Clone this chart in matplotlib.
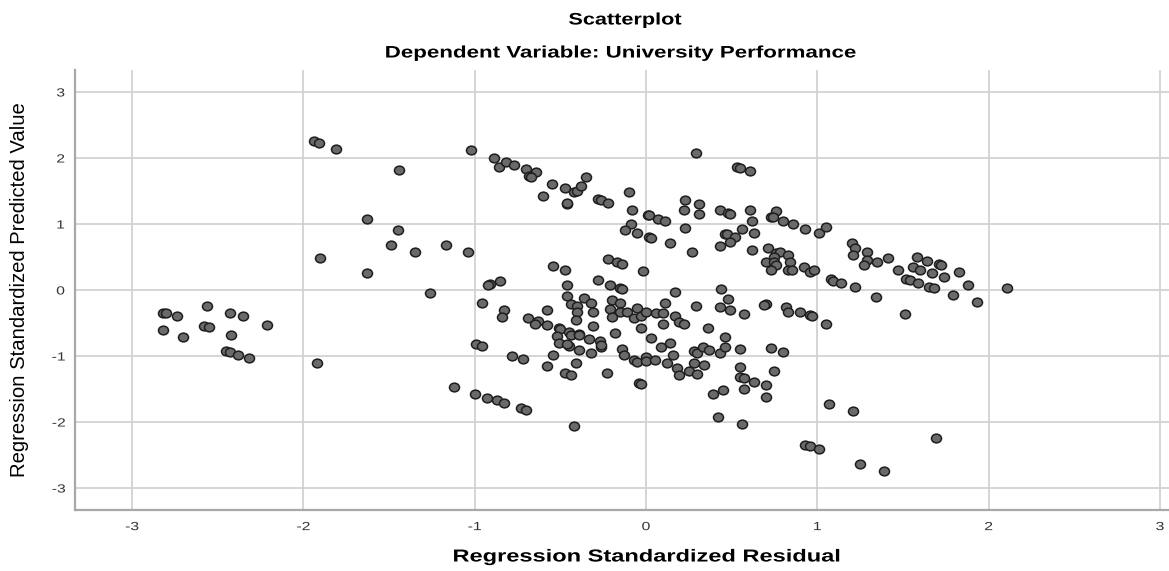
import matplotlib
matplotlib.use("Agg")
import matplotlib.pyplot as plt
from matplotlib.patheffects import AbstractPathEffect
from matplotlib.transforms import Affine2D
from matplotlib.path import Path

# Regression standardized residual (x) and predicted value (y)
resid = [
    -2.82, -2.80, -2.74, -2.82, -2.70, -2.56, -2.58, -2.55, -2.43, -2.35, -2.42, -2.45, -2.43, -2.38, -2.32, -2.21, -1.92,
    -1.94, -1.91, -1.81, -1.44, -1.63, -1.45, -1.49, -1.90, -1.63, -1.35, -1.17, -1.04, -1.26, -1.02,
    -0.89, -0.86, -0.82, -0.77, -0.70, -0.64, -0.68, -0.67, -0.55, -0.60, -0.47, -0.42, -0.40, -0.38, -0.35, -0.46, -0.46,
    -0.28, -0.26, -0.22, -0.10, -0.08, 0.01, 0.02, 0.07, 0.11, -0.09, -0.12, -0.05, 0.02, 0.03, 0.14, 0.23, 0.29, 0.23,
    0.31, 0.22, 0.31, 0.27, 0.43, 0.48, 0.49, 0.61, 0.62, 0.56, 0.63, 0.46, 0.47, 0.52, 0.49, 0.43, 0.62, 0.53, 0.55, 0.61,
    0.76, 0.73, 0.74, 0.71, 0.76, 0.78, 0.83, 0.75, 0.70, 0.75, 0.84, 0.76, 0.73, 0.83, 0.85, 0.92, 0.96, 0.98, 1.08, 1.09,
    1.14, 1.22, 0.80, 0.86, 0.93, 1.01, 1.05,
    1.20, 1.22, 1.21, 1.29, 1.29, 1.27, 1.35, 1.41, 1.47, 1.58, 1.64, 1.56, 1.60, 1.71, 1.72, 1.67, 1.74, 1.83, 1.52, 1.54,
    1.59, 1.65, 1.68, 1.88, 1.79, 1.93, 2.11, 1.51, 1.34,
    -0.22, -0.17, -0.14, -0.02, -0.54, -0.47, -0.91, -0.92, -0.85, -0.28, -0.46, -0.21, -0.15, -0.14, 0.17, 0.44, 0.48,
    0.70, 0.69, -0.96, 0.11, 0.29,
    -0.83, -0.84, -0.58, -0.46, -0.44, -0.40, -0.36, -0.32, -0.40, -0.41, -0.31, -0.20, -0.15, -0.21, -0.15, -0.20, -0.11,
    -0.05, -0.07, -0.03, -0.03, -0.69, -0.63, -0.65, -0.58, -0.31, -0.18, -0.51, -0.50, -0.45, -0.44, -0.39, -0.39, -0.52,
    -0.33, -0.51, -0.45, -0.46, -0.39, -0.27, -0.26, -0.26, -0.32, -0.14, -0.13, -0.99, -0.96, -0.78, -0.72, -0.54, -0.41,
    -0.58, -0.07, -0.05,
    0.00, 0.06, 0.10, 0.10, 0.17, 0.19, 0.22, 0.43, 0.49, 0.57, 0.03, 0.09, 0.14, 0.16, 0.00, 0.00, 0.05, 0.12, 0.18, 0.19,
    0.25, 0.30, 0.28, 0.34, 0.28, 0.30, 0.33, 0.37, 0.43, 0.46, 0.46, 0.36, 0.55, 0.55, 0.55, 0.57, 0.63, 0.70, 0.39, 0.45,
    0.57, 0.70, 0.42, 0.56, 0.73, 0.80, 0.75,
    0.82, 0.83, 0.90, 0.96, 0.97, 1.05,
    -0.47, -0.44, -0.23, -1.12, -1.00, -0.93, -0.87, -0.83, -0.73, -0.70, -0.42, -0.04, -0.03,
    1.07, 1.21, 0.93, 0.96, 1.01, 1.69, 1.25, 1.39,
]
predicted = [
    -0.35, -0.35, -0.40, -0.61, -0.71, -0.24, -0.54, -0.56, -0.35, -0.40, -0.68, -0.92, -0.94, -0.98, -1.03, -0.53, -1.10,
    2.25, 2.23, 2.14, 1.82, 1.07, 0.91, 0.68, 0.49, 0.26, 0.57, 0.68, 0.57, -0.05, 2.12,
    2.00, 1.87, 1.94, 1.90, 1.84, 1.79, 1.72, 1.71, 1.60, 1.43, 1.54, 1.49, 1.50, 1.58, 1.71, 1.31, 1.32,
    1.38, 1.36, 1.32, 1.49, 1.21, 1.14, 1.13, 1.07, 1.05, 1.00, 0.91, 0.86, 0.80, 0.79, 0.71, 0.94, 2.08, 1.36,
    1.31, 1.21, 1.15, 0.58, 1.21, 1.16, 1.15, 1.21, 1.04, 0.93, 0.87, 0.85, 0.85, 0.81, 0.73, 0.66, 0.61, 1.87, 1.85, 1.80,
    1.19, 1.11, 1.11, 0.63, 0.56, 0.58, 0.53, 0.50, 0.43, 0.42, 0.43, 0.38, 0.30, 0.31, 0.31, 0.35, 0.28, 0.30, 0.16, 0.14,
    0.11, 0.04, 1.05, 1.00, 0.93, 0.87, 0.95,
    0.71, 0.63, 0.53, 0.58, 0.46, 0.38, 0.43, 0.48, 0.31, 0.50, 0.44, 0.35, 0.30, 0.39, 0.38, 0.26, 0.20, 0.28, 0.17, 0.15,
    0.11, 0.05, 0.03, 0.08, -0.07, -0.18, 0.03, -0.36, -0.11,
    0.47, 0.43, 0.39, 0.29, 0.36, 0.30, 0.09, 0.08, 0.14, 0.15, 0.08, 0.08, 0.03, 0.02, -0.03, 0.01, -0.13,
    -0.21, -0.22, -0.19, -0.19, -0.24,
    -0.30, -0.41, -0.30, -0.09, -0.21, -0.24, -0.12, -0.20, -0.34, -0.46, -0.33, -0.15, -0.19, -0.29, -0.34, -0.41, -0.33,
    -0.28, -0.42, -0.40, -0.57, -0.43, -0.47, -0.52, -0.53, -0.54, -0.65, -0.58, -0.59, -0.63, -0.68, -0.67, -0.68, -0.69,
    -0.74, -0.80, -0.85, -0.82, -0.91, -0.78, -0.86, -0.84, -0.96, -0.90, -0.98, -0.82, -0.85, -1.00, -1.05, -0.99, -1.10,
    -1.15, -1.06, -1.09,
    -0.33, -0.35, -0.35, -0.51, -0.40, -0.48, -0.51, -0.25, -0.30, -0.36, -0.72, -0.87, -0.81, -0.99, -1.01, -1.08, -1.06,
    -1.11, -1.18, -1.29,
    -1.23, -1.27, -1.10, -1.14, -0.93, -0.95, -0.86, -0.91, -0.95, -0.86, -0.71, -0.57, -0.89, -1.16, -1.32, -1.34, -1.39,
    -1.44, -1.57, -1.52,
    -1.50, -1.62, -1.92, -2.03, -0.88, -0.94, -1.22,
    -0.25, -0.33, -0.33, -0.38, -0.39, -0.51,
    -1.26, -1.29, -1.25, -1.47, -1.57, -1.63, -1.67, -1.71, -1.79, -1.82, -2.06, -1.41, -1.42,
    -1.72, -1.83, -2.35, -2.37, -2.41, -2.24, -2.63, -2.74,
]

x_ticks = [-3, -2, -1, 0, 1, 2, 3]
y_ticks = [-3, -2, -1, 0, 1, 2, 3]
title = "Scatterplot"
subtitle = "Dependent Variable: University Performance"
x_label = "Regression Standardized Residual"
y_label = "Regression Standardized Predicted Value"


class HStretch(AbstractPathEffect):
    """Widen glyphs horizontally about their own centre (the source image is stretched)."""

    def __init__(self, sx):
        super().__init__()
        self.sx = sx

    def draw_path(self, renderer, gc, tpath, affine, rgbFace=None):
        ext = tpath.get_extents(affine)
        cx = 0.5 * (ext.x0 + ext.x1)
        aff = affine + Affine2D().translate(-cx, 0).scale(self.sx, 1.0).translate(cx, 0)
        renderer.draw_path(gc, tpath, aff, rgbFace)


plt.rcParams['font.family'] = ['Liberation Sans', 'DejaVu Sans']

fig = plt.figure(figsize=(11.69, 5.71), dpi=100)
ax = fig.add_axes([75 / 1169, 61 / 571, 1094 / 1169, 440 / 571])

ax.set_xlim(-3.333, 3.053)
ax.set_ylim(-3.333, 3.333)
ax.set_xticks(x_ticks)
ax.set_yticks(y_ticks)
ax.set_xticklabels([str(t) for t in x_ticks])
ax.set_yticklabels([str(t) for t in y_ticks])

ax.grid(True, color='#d2d2d2', linewidth=1.3, zorder=0)
ax.set_axisbelow(True)
for side in ['top', 'right']:
    ax.spines[side].set_visible(False)
for side in ['left', 'bottom']:
    ax.spines[side].set_color('#a8a8a8')
    ax.spines[side].set_linewidth(1.6)
ax.tick_params(length=0, labelsize=8.5, labelcolor='#333333', pad=8)
for lbl in ax.get_xticklabels() + ax.get_yticklabels():
    lbl.set_path_effects([HStretch(1.33)])

# slightly wide circle, as in the (horizontally stretched) source
ellipse = Path.unit_circle().transformed(Affine2D().scale(1.15, 1.0))
ax.scatter(resid, predicted, s=52, marker=ellipse, facecolor='#6a6a6a',
           edgecolor='#1e1e1e', linewidth=1.1, zorder=3)

t1 = fig.text(625 / 1169, 1 - 20 / 571, title, ha='center', va='center',
              fontsize=12, fontweight='bold')
t2 = fig.text(620 / 1169, 1 - 53 / 571, subtitle, ha='center', va='center',
              fontsize=12, fontweight='bold')
t3 = fig.text(647 / 1169, 1 - 557 / 571, x_label, ha='center', va='center',
              fontsize=12.5, fontweight='bold')
t1.set_path_effects([HStretch(1.3)])
t2.set_path_effects([HStretch(1.34)])
t3.set_path_effects([HStretch(1.36)])
fig.text(20 / 1169, 1 - 290 / 571, y_label, ha='center', va='center',
         fontsize=14.6, rotation=90)

fig.savefig('out.png', dpi=100)
